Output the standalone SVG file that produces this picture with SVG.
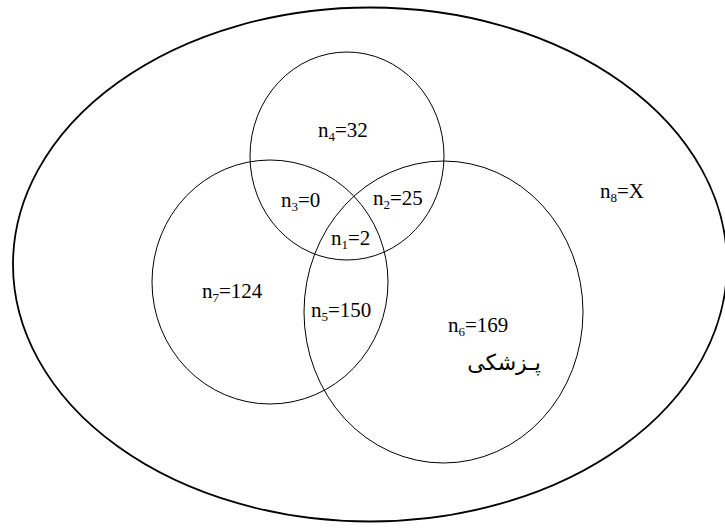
<svg xmlns="http://www.w3.org/2000/svg" width="725" height="529" viewBox="0 0 725 529">
<style>
.set{fill:none;stroke:#000;stroke-width:1}
.univ{fill:none;stroke:#000;stroke-width:1.8}
.lbl{font-family:"Liberation Serif","Times New Roman",serif;font-size:21px;fill:#000}
.sub{font-size:13px}
.fa{font-family:"DejaVu Sans","Noto Sans",sans-serif;font-size:22px;fill:#000}
</style>
<rect width="725" height="529" fill="#fff"/>
<g id="universe">
<ellipse class="univ" cx="370" cy="264.5" rx="357" ry="257"/>
<text class="lbl" x="600" y="198">n<tspan class="sub" dy="4">8</tspan><tspan dy="-4">=X</tspan></text>
</g>
<g id="setTop">
<ellipse class="set" cx="347" cy="156" rx="97" ry="104"/>
<text class="lbl" x="318" y="137">n<tspan class="sub" dy="4">4</tspan><tspan dy="-4">=32</tspan></text>
</g>
<g id="setLeft">
<ellipse class="set" cx="270" cy="282" rx="118" ry="122"/>
<text class="lbl" x="202" y="298">n<tspan class="sub" dy="4">7</tspan><tspan dy="-4">=124</tspan></text>
</g>
<g id="setRight">
<ellipse class="set" cx="443.5" cy="312" rx="139.5" ry="151"/>
<text class="lbl" x="448" y="332">n<tspan class="sub" dy="4">6</tspan><tspan dy="-4">=169</tspan></text>
<text class="fa" x="504" y="370" text-anchor="middle" direction="rtl">پـزشکی</text>
</g>
<g id="regions">
<text class="lbl" x="281" y="207">n<tspan class="sub" dy="4">3</tspan><tspan dy="-4">=0</tspan></text>
<text class="lbl" x="373" y="205">n<tspan class="sub" dy="4">2</tspan><tspan dy="-4">=25</tspan></text>
<text class="lbl" x="331" y="245">n<tspan class="sub" dy="4">1</tspan><tspan dy="-4">=2</tspan></text>
<text class="lbl" x="311" y="317">n<tspan class="sub" dy="4">5</tspan><tspan dy="-4">=150</tspan></text>
</g>
<g id="connectors"></g>
</svg>
